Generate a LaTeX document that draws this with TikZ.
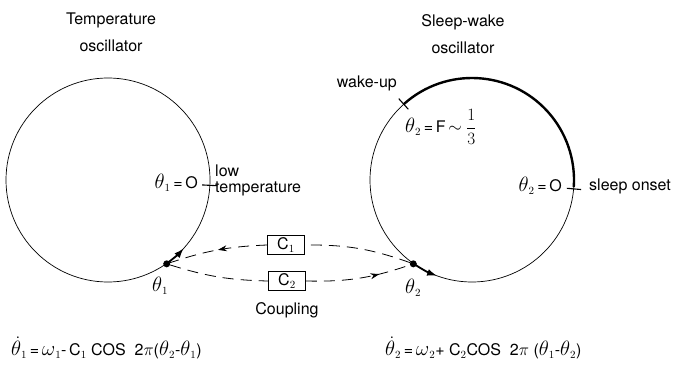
\documentclass[tikz,border=0pt]{standalone}
\usepackage{fontspec}
\setmainfont{TeX Gyre Heros}
\usetikzlibrary{arrows.meta, calc, decorations.markings}
\newcommand{\lblfont}{\fontsize{16}{16}\selectfont}
\newcommand{\headfont}{\fontsize{16}{27}\selectfont}
\newcommand{\phs}[1]{{\fontsize{20}{20}\selectfont$\theta$}$_{#1}$}
\newcommand{\phsdot}[1]{{\fontsize{20}{20}\selectfont$\dot\theta$}$_{#1}$}
\newcommand{\freq}[1]{{\fontsize{20}{20}\selectfont$\omega$}$_{#1}$}

\begin{document}
\begin{tikzpicture}[x=1pt, y=1pt,
    osc/.style={draw, circle, line width=0.7pt, minimum size=204pt, inner sep=0pt},
    tickln/.style={line width=1.1pt},
    dot/.style={circle, fill=black, minimum size=7pt, inner sep=0pt},
    cbox/.style={draw, line width=0.8pt, minimum width=37pt, minimum height=19pt, inner sep=0pt, font=\lblfont},
    lbl/.style={font=\lblfont, inner sep=1pt},
    head/.style={font=\headfont, align=center},
    coup/.style={line width=0.8pt, dash pattern=on 11pt off 7pt, postaction={decorate},
        decoration={markings, mark=at position #1 with {\arrow{Stealth[length=9pt, width=6pt]}}}},
    circarr/.style={line width=1.8pt, -{Latex[length=10pt, width=7pt]}},
]
\useasboundingbox (0, 0) rectangle (677, 370);

% Titles
\node[head] (thead) at (111, 338) {Temperature\\oscillator};
\node[head] (shead) at (463, 336) {Sleep-wake\\oscillator};

% Oscillators
\node[osc] (temp) at (108, 190) {};
\node[osc] (sw) at (472, 190) {};

% Active (wake) part of sleep-wake cycle
\draw[line width=2.4pt] ([shift={(132:102)}]sw.center) arc[start angle=132, end angle=-4, radius=102pt];

% Ticks
\draw[tickln] ($(temp.center)!0.92!(temp.-3)$) -- ($(temp.center)!1.07!(temp.-3)$);
\draw[tickln] ($(sw.center)!0.93!(sw.132)$) -- ($(sw.center)!1.07!(sw.132)$);
\draw[tickln] ($(sw.center)!0.93!(sw.-5)$) -- ($(sw.center)!1.07!(sw.-5)$);

% Phase points
\node[dot] (th1) at (temp.-55) {};
\node[dot] (th2) at (sw.235.5) {};
\draw[circarr] ([shift={(-55:102)}]temp.center) arc[start angle=-55, end angle=-42, radius=102pt];
\draw[circarr] ([shift={(235.5:102)}]sw.center) arc[start angle=235.5, end angle=250, radius=102pt];

% Labels on the circles
\node[lbl, anchor=east] (t1zero) at (199, 187) {\phs1\,=\,O};
\node[lbl, anchor=west, align=left] (lowt) at (214, 190) {low\\temperature};
\node[lbl, anchor=east] (wake) at (398, 287) {wake-up};
\node[lbl, anchor=west] (t2f) at (404, 243)
    {\phs2\,=\,F\,$\sim$\;{\fontsize{16}{16}\selectfont$\displaystyle\frac{1}{3}$}};
\node[lbl, anchor=east] (t2zero) at (563, 184) {\phs2\,=\,O};
\node[lbl, anchor=west] (onset) at (588, 184) {sleep onset};
\node[lbl] (t1lbl) at (160, 84) {\phs1};
\node[lbl] (t2lbl) at (413, 82) {\phs2};

% Coupling
\node[cbox] (c1) at (286, 125) {C$_1$};
\node[cbox] (c2) at (287, 89) {C$_2$};
\node[lbl] (coupling) at (287, 60) {Coupling};

\draw[line width=0.8pt, dash pattern=on 11pt off 7pt] (th2) to[bend right=10] (c1.east);
\draw[coup=0.5] (c1.west) to[bend right=8] (th1);
\draw[line width=0.8pt, dash pattern=on 11pt off 7pt] (th1) to[bend right=8] (c2.west);
\draw[coup=0.7] (c2.east) to[bend right=10] (th2);

% Phase equations
\node[lbl, anchor=west] (eq1) at (10, 22)
    {\phsdot1\,=\,\freq1-\,C$_1$ COS \ 2$\pi$(\phs2-\phs1)};
\node[lbl, anchor=west] (eq2) at (384, 22)
    {\phsdot2\,=\,\freq2+\ C$_2$COS \ 2$\pi$ (\phs1-\phs2)};

\end{tikzpicture}
\end{document}
